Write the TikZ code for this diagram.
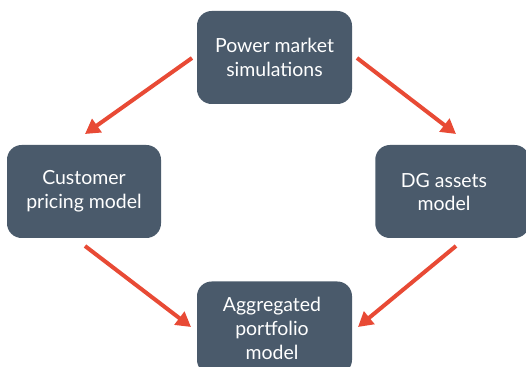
\documentclass[tikz,border=0pt]{standalone}
\usepackage{fontspec}
\setmainfont{Lato}
\usetikzlibrary{arrows.meta}
\definecolor{boxfill}{HTML}{4A5A6B}
\definecolor{arrowred}{HTML}{E84A35}
\begin{document}
\begin{tikzpicture}[x=0.75pt,y=-0.75pt,
  labeltext/.style={text=white,align=center,
    font=\fontsize{14.6pt}{17.8pt}\selectfont,inner sep=0pt},
  stagebox/.style={draw=none,fill=boxfill,rounded corners=11pt,
    minimum height=69.75pt,labeltext},
  flow/.style={draw=arrowred,line width=3pt,
    -{Triangle[length=11pt,width=12pt]}}]
  \useasboundingbox (0,0) rectangle (526,367);
  \clip (0,0) rectangle (526,367);
  % stage boxes
  \node[stagebox,minimum width=116.25pt] (sim) at (274.5,57.5)
    {Power market\\simulations};
  \node[stagebox,minimum width=115.5pt] (cust) at (84,191.5)
    {Customer\\pricing model};
  \node[stagebox,minimum width=115.5pt,anchor=west] (dg) at (375,191.5) {};
  \node[labeltext] (dgtext) at (444,192) {DG assets\\model};
  \node[stagebox,minimum width=116.25pt] (agg) at (274.5,328) {};
  \node[labeltext] (aggtext) at (272,328.5) {Aggregated\\portfolio\\model};
  % connectors
  \coordinate (a1) at (192,58);  \coordinate (b1) at (85,134);
  \coordinate (a2) at (357,58);  \coordinate (b2) at (456,134);
  \coordinate (a3) at (85,246);  \coordinate (b3) at (191,327);
  \coordinate (a4) at (456,246); \coordinate (b4) at (358,327);
  \draw[flow] (a1) -- (b1);
  \draw[flow] (a2) -- (b2);
  \draw[flow] (a3) -- (b3);
  \draw[flow] (a4) -- (b4);
\end{tikzpicture}
\end{document}
